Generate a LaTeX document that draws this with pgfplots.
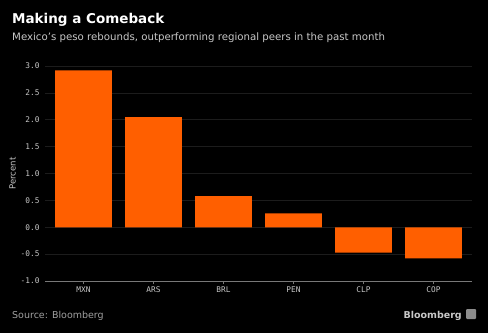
\documentclass[border=0pt]{standalone}
\usepackage{pgfplots}
\pgfplotsset{compat=1.18}
\usepackage{fontspec}
\setmainfont{DejaVu Sans}
\newfontfamily\monofont{DejaVu Sans Mono}
\definecolor{barorange}{HTML}{FF5F00}
\definecolor{ticktext}{HTML}{C8C8C8}
\definecolor{gridc}{HTML}{1C1C1C}
\begin{document}
\begin{tikzpicture}[x=1pt,y=1pt]
\fill[black] (0,0) rectangle (488,333);
\node[anchor=base west, text=white, font=\fontsize{13.5}{16}\selectfont\bfseries, inner sep=0] at (12,309) {Making a Comeback};
\node[anchor=base west, text=ticktext, font=\fontsize{10.2}{12}\selectfont, inner sep=0] at (12,293) {Mexico's peso rebounds, outperforming regional peers in the past month};
\node[anchor=base west, text=ticktext!80!black, font=\fontsize{9.5}{11}\selectfont, inner sep=0] at (12,15) {Source: Bloomberg};
\node[anchor=base east, text=ticktext, font=\fontsize{9.5}{11}\selectfont\bfseries, inner sep=0] at (462,15) {Bloomberg};
\fill[ticktext!70!black, rounded corners=1pt] (466,14) rectangle (476,24);
\begin{axis}[
  at={(45pt,52pt)}, anchor=south west,
  scale only axis, width=427pt, height=215pt,
  ymin=-1, ymax=3,
  xmin=-0.55, xmax=5.55,
  ytick={-1,-0.5,0,0.5,1,1.5,2,2.5,3},
  yticklabels={-1.0,-0.5,0.0,0.5,1.0,1.5,2.0,2.5,3.0},
  xtick=data,
  xticklabels={MXN,ARS,BRL,PEN,CLP,COP},
  ticklabel style={font=\monofont\fontsize{7.8}{9}\selectfont, text=ticktext},
  axis line style={draw=none},
  major tick length=0pt,
  ymajorgrids,
  grid style={gridc, line width=0.6pt},
  ylabel={Percent},
  ylabel style={text=ticktext, font=\fontsize{8.5}{10}\selectfont},
  yticklabel style={xshift=-2pt},
  xticklabel style={yshift=-2pt},
  ylabel shift=-2pt,
  clip=false,
]
\addplot[ybar, bar width=0.81, fill=barorange, draw=none, bar shift=0pt] coordinates {
(0,2.92) (1,2.05) (2,0.58) (3,0.26) (4,-0.47) (5,-0.58)
};
\draw[ticktext!60!black, line width=0.7pt] (axis cs:-0.55,-1) -- (axis cs:5.55,-1);
\pgfplotsinvokeforeach{0,...,5}{\draw[ticktext!60!black, line width=0.5pt] (axis cs:#1,-1) -- ++(0pt,-3pt);}
\end{axis}
\end{tikzpicture}
\end{document}
